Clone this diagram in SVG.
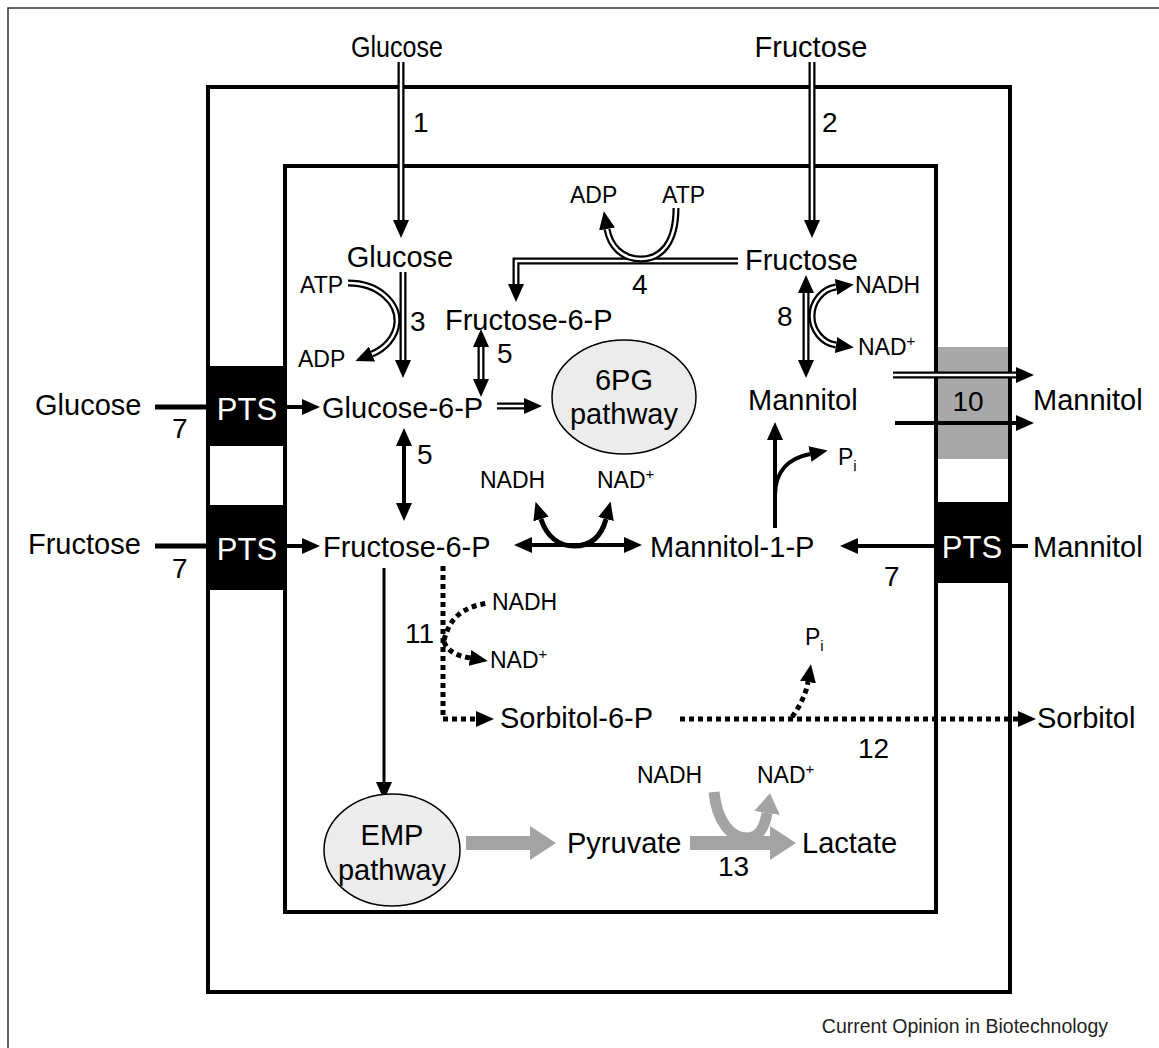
<svg xmlns="http://www.w3.org/2000/svg" width="1159" height="1048" viewBox="0 0 1159 1048">
<style>
.t{font-family:"Liberation Sans",Arial,Helvetica,sans-serif;fill:#000}
.big{font-size:29px}
.sm{font-size:23px}
.num{font-size:28px}
.pts{font-size:31px;fill:#fff}
.mem{fill:none;stroke:#000;stroke-width:4}
.k{fill:none;stroke:#000;stroke-width:7}
.w{fill:none;stroke:#fff;stroke-width:2.5}
.s4{fill:none;stroke:#000;stroke-width:4}
.s3{fill:none;stroke:#000;stroke-width:3}
.dot{fill:none;stroke:#000;stroke-width:5;stroke-dasharray:5 4}
.g{fill:none;stroke:#a3a3a3;stroke-width:14}
.g2{fill:none;stroke:#a3a3a3;stroke-width:11}
</style>
<defs>
<marker id="ah" viewBox="0 0 18 16" refX="0" refY="8" markerWidth="18" markerHeight="16" markerUnits="userSpaceOnUse" orient="auto-start-reverse"><path d="M0,0 L18,8 L0,16 z" fill="#000"/></marker>
<marker id="ag" viewBox="0 0 26 34" refX="0" refY="17" markerWidth="26" markerHeight="34" markerUnits="userSpaceOnUse" orient="auto"><path d="M0,0 L26,17 L0,34 z" fill="#a3a3a3"/></marker>
<marker id="ag2" viewBox="0 0 20 26" refX="0" refY="13" markerWidth="20" markerHeight="26" markerUnits="userSpaceOnUse" orient="auto"><path d="M0,0 L20,13 L0,26 z" fill="#a3a3a3"/></marker>
</defs>
<rect width="1159" height="1048" fill="#fff"/>
<path d="M8,1048 L8,8 L1159,8" fill="none" stroke="#333" stroke-width="1.5"/>

<g id="cell">
<rect x="937" y="347" width="71" height="112" fill="#a8a8a8"/>
<rect class="mem" x="208" y="87" width="802" height="905"/>
<rect class="mem" x="285" y="166" width="651" height="746"/>
</g>
<g id="pts-glucose"><rect x="206" y="366" width="81" height="80" fill="#000"/><text class="t pts" x="247" y="420" text-anchor="middle">PTS</text></g>
<g id="pts-fructose"><rect x="206" y="505" width="81" height="85" fill="#000"/><text class="t pts" x="247" y="560" text-anchor="middle">PTS</text></g>
<g id="pts-mannitol"><rect x="935" y="502" width="77" height="81" fill="#000"/><text class="t pts" x="972" y="558" text-anchor="middle">PTS</text></g>
<g id="transporter-10"><text class="t num" x="968" y="411" text-anchor="middle">10</text></g>

<g id="connectors">
<!-- double-line arrows -->
<path class="k" d="M401,62 L401,220" marker-end="url(#ah)"/><path class="w" d="M401,62 L401,220"/>
<path class="k" d="M812,62 L812,220" marker-end="url(#ah)"/><path class="w" d="M812,62 L812,220"/>
<path class="k" d="M403,272 L403,360" marker-end="url(#ah)"/><path class="w" d="M403,272 L403,360"/>
<path class="k" d="M348,283 C380,283 398,304 397,322 C396,338 384,349 372,354" marker-end="url(#ah)"/><path class="w" d="M348,283 C380,283 398,304 397,322 C396,338 384,349 372,354"/>
<path class="k" d="M738,261 L516,261 L516,284" marker-end="url(#ah)"/><path class="w" d="M738,261 L516,261 L516,284"/>
<path class="k" d="M676,208 C676,243 661,259 641,259 C622,259 610,246 607,229" marker-end="url(#ah)"/><path class="w" d="M676,208 C676,243 661,259 641,259 C622,259 610,246 607,229"/>
<path class="k" d="M481,347 L481,379" marker-start="url(#ah)" marker-end="url(#ah)"/><path class="w" d="M481,347 L481,379"/>
<path class="k" d="M497,406 L524,406" marker-end="url(#ah)"/><path class="w" d="M497,406 L524,406"/>
<path class="k" d="M806,293 L806,360" marker-start="url(#ah)" marker-end="url(#ah)"/><path class="w" d="M806,293 L806,360"/>
<path class="k" d="M836,287 C822,289 812,302 812,316 C812,330 822,343 836,345" marker-start="url(#ah)" marker-end="url(#ah)"/><path class="w" d="M836,287 C822,289 812,302 812,316 C812,330 822,343 836,345"/>
<path class="k" d="M893,375 L1016,375" marker-end="url(#ah)"/><path class="w" d="M893,375 L1016,375"/>
<!-- solid arrows -->
<path class="s4" d="M895,423 L1016,423" marker-end="url(#ah)"/>
<path class="s4" d="M155,407 L208,407" style="stroke-width:5"/>
<path class="s4" d="M286,407 L302,407" marker-end="url(#ah)"/>
<path class="s4" d="M155,546 L208,546" style="stroke-width:5"/>
<path class="s4" d="M286,546 L302,546" marker-end="url(#ah)"/>
<path class="s4" d="M404,446 L404,503" marker-start="url(#ah)" marker-end="url(#ah)"/>
<path class="s4" d="M532,545 L624,545" marker-start="url(#ah)" marker-end="url(#ah)"/>
<path class="s4" d="M541,519 C547,538 560,546 574,546 C589,546 601,538 606,519" style="stroke-width:5" marker-start="url(#ah)" marker-end="url(#ah)"/>
<path class="s3" d="M384,568 L384,782" marker-end="url(#ah)"/>
<path class="s4" d="M775,528 L775,440" marker-end="url(#ah)"/>
<path class="s4" d="M775,495 C775,470 790,458 810,454" marker-end="url(#ah)"/>
<path class="s4" d="M935,546 L858,546" marker-end="url(#ah)"/>
<path class="s4" d="M1010,546 L1028,546"/>
<!-- dotted arrows -->
<path class="dot" d="M443,566 L443,719 L476,719" marker-end="url(#ah)"/>
<path class="dot" d="M444,640 C450,618 462,607 488,603"/>
<path class="dot" d="M444,642 C448,652 458,656 470,658" marker-end="url(#ah)"/>
<path class="dot" d="M680,719 L1018,719" marker-end="url(#ah)"/>
<path class="dot" d="M792,717 C800,706 806,694 808,682" marker-end="url(#ah)"/>
<!-- gray arrows -->
<path class="g" d="M466,843 L530,843" marker-end="url(#ag)"/>
<path class="g" d="M690,843 L770,843" marker-end="url(#ag)"/>
<path class="g2" d="M714,792 C717,822 731,838 747,838 C759,838 765,826 767,813" marker-end="url(#ag2)"/>
</g>

<g id="ext-glucose"><text class="t big" x="397" y="57" text-anchor="middle" textLength="92" lengthAdjust="spacingAndGlyphs">Glucose</text></g>
<g id="ext-fructose"><text class="t big" x="811" y="57" text-anchor="middle">Fructose</text></g>
<g id="labels-numbers">
<text class="t num" x="413" y="132">1</text>
<text class="t num" x="822" y="132">2</text>
<text class="t num" x="410" y="331">3</text>
<text class="t num" x="632" y="294">4</text>
<text class="t num" x="497" y="363">5</text>
<text class="t num" x="417" y="464">5</text>
<text class="t num" x="777" y="326">8</text>
<text class="t num" x="172" y="438">7</text>
<text class="t num" x="172" y="578">7</text>
<text class="t num" x="884" y="586">7</text>
<text class="t num" x="405" y="643">11</text>
<text class="t num" x="858" y="758">12</text>
<text class="t num" x="718" y="876">13</text>
</g>
<g id="glucose"><text class="t big" x="400" y="267" text-anchor="middle">Glucose</text></g>
<g id="cofactors">
<text class="t sm" x="300" y="293">ATP</text>
<text class="t sm" x="298" y="367">ADP</text>
<text class="t sm" x="570" y="203">ADP</text>
<text class="t sm" x="662" y="203">ATP</text>
<text class="t sm" x="855" y="293">NADH</text>
<text class="t sm" x="858" y="355">NAD<tspan font-size="15" dy="-9">+</tspan></text>
<text class="t sm" x="480" y="488">NADH</text>
<text class="t sm" x="597" y="488">NAD<tspan font-size="15" dy="-9">+</tspan></text>
<text class="t sm" x="492" y="610">NADH</text>
<text class="t sm" x="490" y="668">NAD<tspan font-size="15" dy="-9">+</tspan></text>
<text class="t sm" x="637" y="783">NADH</text>
<text class="t sm" x="757" y="783">NAD<tspan font-size="15" dy="-9">+</tspan></text>
<text class="t sm" x="838" y="465">P<tspan font-size="15" dy="6">i</tspan></text>
<text class="t sm" x="805" y="645">P<tspan font-size="15" dy="6">i</tspan></text>
</g>
<g id="fructose"><text class="t big" x="745" y="270">Fructose</text></g>
<g id="fructose-6-p-upper"><text class="t big" x="445" y="330">Fructose-6-P</text></g>
<g id="glucose-ext-left"><text class="t big" x="35" y="415">Glucose</text></g>
<g id="glucose-6-p"><text class="t big" x="322" y="418">Glucose-6-P</text></g>
<g id="pathway-6pg"><ellipse cx="624" cy="397" rx="72" ry="57" fill="#ececec" stroke="#000" stroke-width="1.5"/><text class="t big" x="624" y="390" text-anchor="middle">6PG</text><text class="t big" x="624" y="424" text-anchor="middle">pathway</text></g>
<g id="mannitol"><text class="t big" x="748" y="410">Mannitol</text></g>
<g id="mannitol-ext"><text class="t big" x="1033" y="410">Mannitol</text></g>
<g id="fructose-ext-left"><text class="t big" x="28" y="554">Fructose</text></g>
<g id="fructose-6-p"><text class="t big" x="323" y="557">Fructose-6-P</text></g>
<g id="mannitol-1-p"><text class="t big" x="650" y="557">Mannitol-1-P</text></g>
<g id="mannitol-ext-pts"><text class="t big" x="1033" y="557">Mannitol</text></g>
<g id="sorbitol-6-p"><text class="t big" x="500" y="728">Sorbitol-6-P</text></g>
<g id="sorbitol-ext"><text class="t big" x="1037" y="728">Sorbitol</text></g>
<g id="pathway-emp"><ellipse cx="392" cy="850" rx="68" ry="56" fill="#ececec" stroke="#000" stroke-width="1.5"/><text class="t big" x="392" y="845" text-anchor="middle">EMP</text><text class="t big" x="392" y="880" text-anchor="middle">pathway</text></g>
<g id="pyruvate"><text class="t big" x="567" y="853">Pyruvate</text></g>
<g id="lactate"><text class="t big" x="802" y="853">Lactate</text></g>
<text class="t" x="1108" y="1033" text-anchor="end" style="font-size:19.5px;fill:#222">Current Opinion in Biotechnology</text>
</svg>
